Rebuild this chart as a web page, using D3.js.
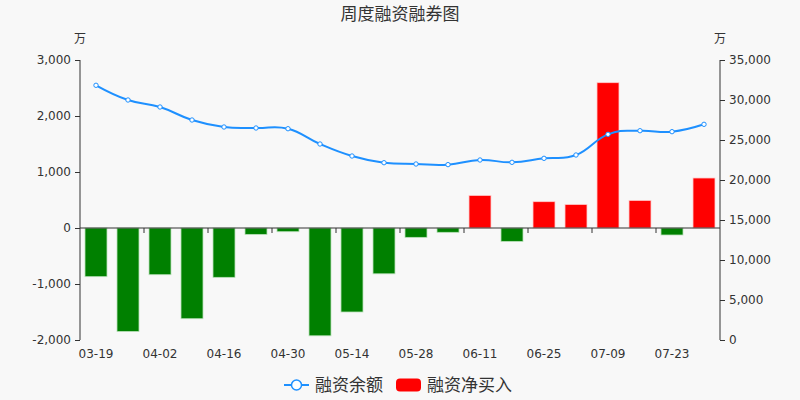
<!DOCTYPE html>
<html>
<head>
<meta charset="utf-8">
<script src="https://cdn.jsdelivr.net/npm/d3@7"></script>
<style>
  body { margin: 0; background: #f8f8f8; }
  svg { display: block; font-family: "DejaVu Sans", "Noto Sans CJK SC", sans-serif; }
</style>
</head>
<body>
<svg id="chart" width="800" height="400"></svg>
<script>
// weekly dates, values in 万
const dates = ["03-19","03-26","04-02","04-09","04-16","04-23","04-30","05-07","05-14","05-21",
               "05-28","06-04","06-11","06-18","06-25","07-02","07-09","07-16","07-23","07-30"];
const netBuy = [-869,-1848,-834,-1620,-881,-114,-66,-1925,-1500,-818,
                -167,-77,582,-239,470,421,2595,493,-125,893];
const balance = [31840,30000,29125,27500,26625,26500,26410,24500,23000,22160,
                 22000,21920,22500,22210,22710,23125,25710,26160,26040,26960];
const leftTicks = [-2000,-1000,0,1000,2000,3000];
const rightTicks = [0,5000,10000,15000,20000,25000,30000,35000];

const svg = d3.select("#chart");
const W = 800, H = 400;
const padL = 80, padR = 720, padT = 60, padB = 340;
const textCol = "#333";
const cjk = "'Noto Sans CJK SC', sans-serif";

svg.append("rect").attr("width", W).attr("height", H).attr("fill", "#f8f8f8");

const x = d3.scaleBand().domain(dates).range([padL, padR]);
const yL = d3.scaleLinear().domain([-2000, 3000]).range([padB, padT]);
const yR = d3.scaleLinear().domain([0, 35000]).range([padB, padT]);
// plain hyphen for negatives, like the original
const fmt = d => d3.format(",")(d).replace("−", "-");

// title
svg.append("text").attr("x", 400).attr("y", 20).attr("text-anchor", "middle")
  .attr("font-family", cjk).attr("font-size", 17).attr("fill", textCol)
  .text("周度融资融券图");

// units
svg.append("text").attr("x", 80).attr("y", 43).attr("text-anchor", "middle")
  .attr("font-family", cjk).attr("font-size", 12).attr("fill", textCol).text("万");
svg.append("text").attr("x", 720).attr("y", 43).attr("text-anchor", "middle")
  .attr("font-family", cjk).attr("font-size", 12).attr("fill", textCol).text("万");

// bars
svg.append("g").selectAll("rect").data(netBuy).join("rect")
  .attr("x", (d, i) => x(dates[i]) + x.bandwidth() / 2 - 11)
  .attr("width", 22)
  .attr("y", d => yL(Math.max(0, d)))
  .attr("height", d => Math.abs(yL(d) - yL(0)))
  .attr("fill", d => d >= 0 ? "#ff0000" : "#008000")
  .attr("stroke", d => d >= 0 ? "#ffcccc" : "#b8e0b8")
  .attr("stroke-width", 0.8);

// left / right axes
const gL = svg.append("g").attr("transform", `translate(${padL},0)`)
  .call(d3.axisLeft(yL).tickValues(leftTicks).tickFormat(fmt).tickSize(5).tickPadding(4));
const gR = svg.append("g").attr("transform", `translate(${padR},0)`)
  .call(d3.axisRight(yR).tickValues(rightTicks).tickFormat(fmt).tickSize(5).tickPadding(4));
[gL, gR].forEach(g => {
  g.select(".domain").attr("stroke", textCol).attr("d", `M0,${padT}V${padB}`);
  g.selectAll(".tick line").attr("stroke", textCol);
  g.selectAll(".tick text").attr("fill", textCol).attr("font-size", 12)
    .attr("font-family", "'DejaVu Sans', sans-serif");
});

// x axis at zero line
const gX = svg.append("g");
gX.append("line").attr("x1", padL).attr("x2", padR).attr("y1", yL(0)).attr("y2", yL(0))
  .attr("stroke", textCol);
gX.selectAll("line.t").data(dates.filter((d, i) => i % 2 === 0 && i > 0)).join("line")
  .attr("class", "t")
  .attr("x1", d => x(d)).attr("x2", d => x(d))
  .attr("y1", yL(0)).attr("y2", yL(0) + 5).attr("stroke", textCol);
gX.selectAll("text").data(dates.filter((d, i) => i % 2 === 0)).join("text")
  .attr("x", d => x(d) + x.bandwidth() / 2).attr("y", 358)
  .attr("text-anchor", "middle").attr("font-size", 12).attr("fill", textCol)
  .text(d => d);

// balance line
const line = d3.line()
  .x((d, i) => x(dates[i]) + x.bandwidth() / 2)
  .y(d => yR(d))
  .curve(d3.curveCardinal.tension(-0.3));
svg.append("path").datum(balance).attr("d", line)
  .attr("fill", "none").attr("stroke", "#1e90ff").attr("stroke-width", 2);
svg.append("g").selectAll("circle").data(balance).join("circle")
  .attr("cx", (d, i) => x(dates[i]) + x.bandwidth() / 2)
  .attr("cy", d => yR(d)).attr("r", 2.2)
  .attr("fill", "#fff").attr("stroke", "#1e90ff").attr("stroke-width", 1);

// legend
const lg = svg.append("g");
lg.append("line").attr("x1", 284).attr("x2", 309).attr("y1", 385).attr("y2", 385)
  .attr("stroke", "#1e90ff").attr("stroke-width", 2);
lg.append("circle").attr("cx", 296.5).attr("cy", 385).attr("r", 5)
  .attr("fill", "#fff").attr("stroke", "#1e90ff").attr("stroke-width", 1.5);
lg.append("text").attr("x", 315).attr("y", 391).attr("font-family", cjk)
  .attr("font-size", 17).attr("fill", textCol).text("融资余额");
lg.append("rect").attr("x", 396).attr("y", 378.5).attr("width", 25).attr("height", 13)
  .attr("rx", 4).attr("fill", "#ff0000");
lg.append("text").attr("x", 427).attr("y", 391).attr("font-family", cjk)
  .attr("font-size", 17).attr("fill", textCol).text("融资净买入");
</script>
</body>
</html>
